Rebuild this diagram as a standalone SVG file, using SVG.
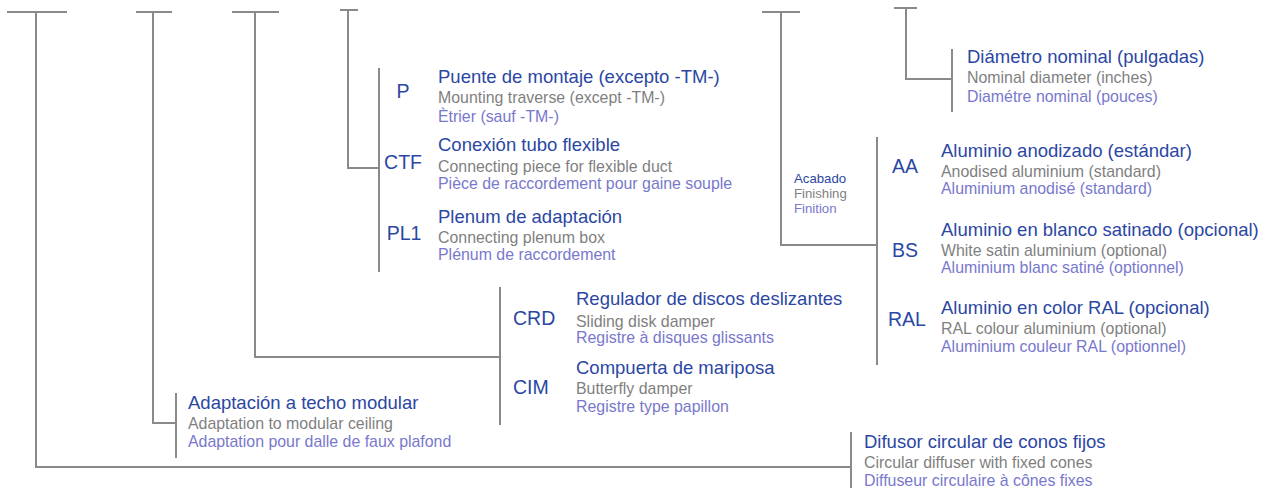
<svg xmlns="http://www.w3.org/2000/svg" width="1270" height="488" viewBox="0 0 1270 488">
<style>
.ln{stroke:#8a8a8a;stroke-width:2;fill:none}
text{font-family:"Liberation Sans",Arial,sans-serif}
.t{font-size:18.5px;fill:#2b47a3}
.e{font-size:15.9px;fill:#7f7f7f}
.f{font-size:15.9px;fill:#7878cc}
.c{font-size:19.5px;fill:#2b47a3}
.st{font-size:13.2px;fill:#2b47a3}
.se{font-size:13.2px;fill:#7f7f7f}
.sf{font-size:13.2px;fill:#7878cc}
</style>
<rect width="1270" height="488" fill="#ffffff"/>
<g id="connectors" class="ln">
<path d="M7 12H67M36 12V467H851"/>
<path d="M136 12H172M153 12V423H176M176 393V458"/>
<path d="M232 12H279M255 12V357H500M500 287V425"/>
<path d="M340 10H358M348 10V168H379M379 68V272"/>
<path d="M762 12H800M781 12V245H877M877 137V365"/>
<path d="M894 8H917M906 8V79H952M952 49V112"/>
<path d="M851 432V488"/>
</g>
<g id="node-diametro">
<text class="t" x="967" y="63">Diámetro nominal (pulgadas)</text>
<text class="e" x="967" y="83">Nominal diameter (inches)</text>
<text class="f" x="967" y="101.5">Diamétre nominal (pouces)</text>
</g>
<g id="node-acabado">
<text class="st" x="794" y="183">Acabado</text>
<text class="se" x="794" y="198">Finishing</text>
<text class="sf" x="794" y="213">Finition</text>
</g>
<g id="node-AA">
<text class="c" x="905" y="173" text-anchor="middle">AA</text>
<text class="t" x="941" y="156.5">Aluminio anodizado (estándar)</text>
<text class="e" x="941" y="176.5">Anodised aluminium (standard)</text>
<text class="f" x="941" y="194">Aluminium anodisé (standard)</text>
</g>
<g id="node-BS">
<text class="c" x="905" y="256.5" text-anchor="middle">BS</text>
<text class="t" x="941" y="236">Aluminio en blanco satinado (opcional)</text>
<text class="e" x="941" y="256">White satin aluminium (optional)</text>
<text class="f" x="941" y="273">Aluminium blanc satiné (optionnel)</text>
</g>
<g id="node-RAL">
<text class="c" x="907" y="326" text-anchor="middle">RAL</text>
<text class="t" x="941" y="314">Aluminio en color RAL (opcional)</text>
<text class="e" x="941" y="333.5">RAL colour aluminium (optional)</text>
<text class="f" x="941" y="351.5">Aluminium couleur RAL (optionnel)</text>
</g>
<g id="node-P">
<text class="c" x="403" y="98" text-anchor="middle">P</text>
<text class="t" x="438" y="83.3">Puente de montaje (excepto -TM-)</text>
<text class="e" x="438" y="103.3">Mounting traverse (except -TM-)</text>
<text class="f" x="438" y="121.5">Ètrier (sauf -TM-)</text>
</g>
<g id="node-CTF">
<text class="c" x="403" y="168.5" text-anchor="middle">CTF</text>
<text class="t" x="438" y="150.7">Conexión tubo flexible</text>
<text class="e" x="438" y="171.7">Connecting piece for flexible duct</text>
<text class="f" x="438" y="189.3">Pièce de raccordement pour gaine souple</text>
</g>
<g id="node-PL1">
<text class="c" x="404" y="240" text-anchor="middle">PL1</text>
<text class="t" x="438" y="222.7">Plenum de adaptación</text>
<text class="e" x="438" y="242.7">Connecting plenum box</text>
<text class="f" x="438" y="260">Plénum de raccordement</text>
</g>
<g id="node-CRD">
<text class="c" x="513" y="325">CRD</text>
<text class="t" x="576" y="305">Regulador de discos deslizantes</text>
<text class="e" x="576" y="326.5">Sliding disk damper</text>
<text class="f" x="576" y="343.3">Registre à disques glissants</text>
</g>
<g id="node-CIM">
<text class="c" x="513" y="394">CIM</text>
<text class="t" x="576" y="374">Compuerta de mariposa</text>
<text class="e" x="576" y="394">Butterfly damper</text>
<text class="f" x="576" y="411.7">Registre type papillon</text>
</g>
<g id="node-adaptacion">
<text class="t" x="188" y="409">Adaptación a techo modular</text>
<text class="e" x="188" y="429">Adaptation to modular ceiling</text>
<text class="f" x="188" y="446.7">Adaptation pour dalle de faux plafond</text>
</g>
<g id="node-difusor">
<text class="t" x="864" y="448.3">Difusor circular de conos fijos</text>
<text class="e" x="864" y="468.3">Circular diffuser with fixed cones</text>
<text class="f" x="864" y="486">Diffuseur circulaire à cônes fixes</text>
</g>
</svg>
